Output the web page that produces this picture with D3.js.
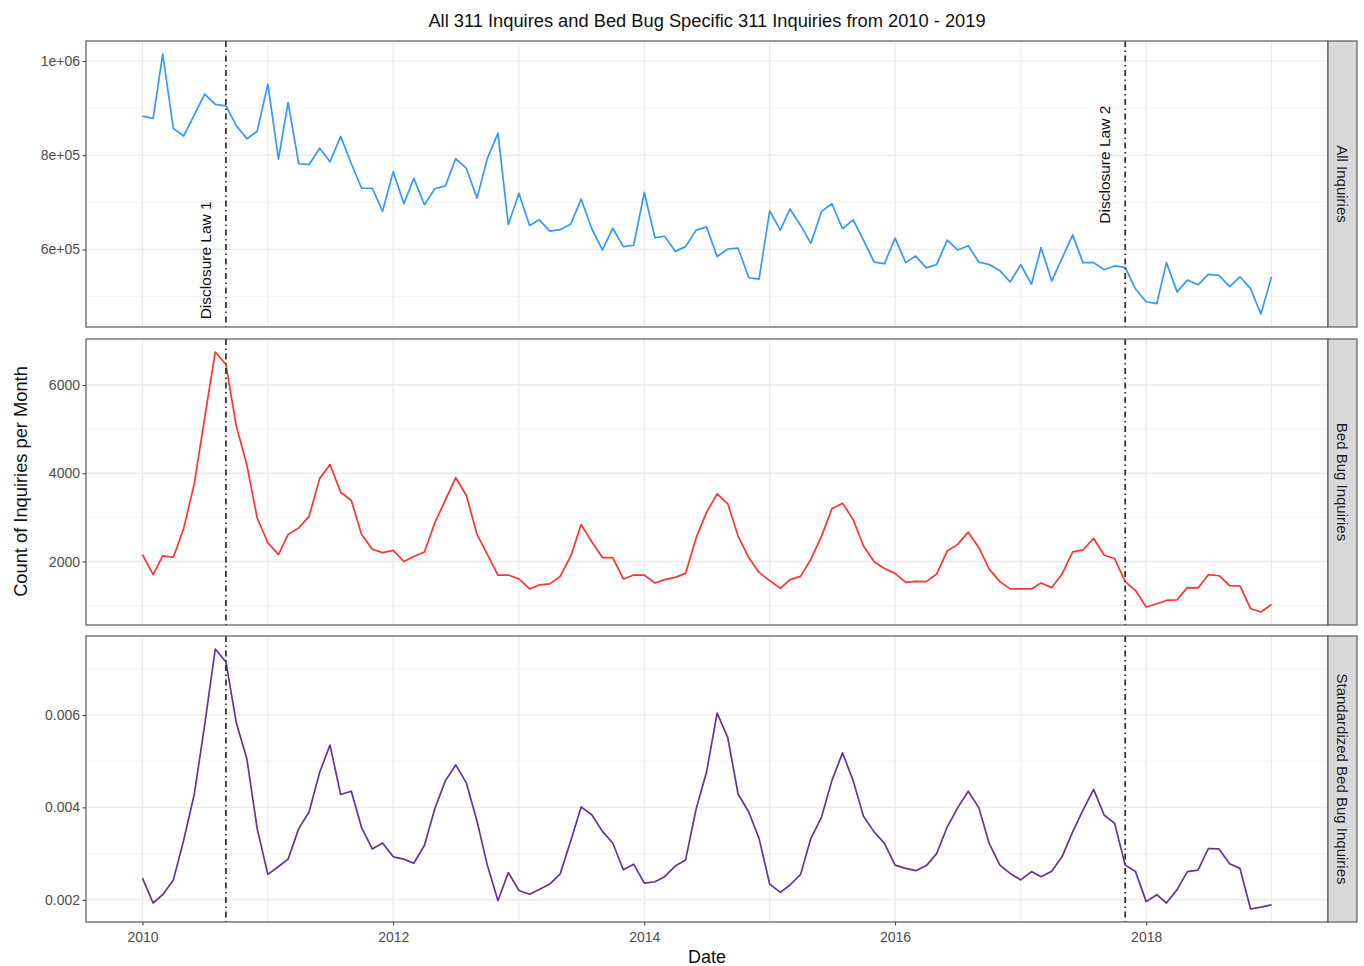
<!DOCTYPE html>
<html>
<head>
<meta charset="utf-8">
<script src="https://cdn.jsdelivr.net/npm/d3@7"></script>
<style>
  body { margin: 0; background: #fff; }
  svg { font-family: "Liberation Sans", Arial, sans-serif; }
</style>
</head>
<body>
<svg id="chart" width="1364" height="966"></svg>
<script>
// monthly values, Jan 2010 .. Jan 2019
const allInquiries = [
  883000, 878000, 1015000, 857000, 841000, 886000, 930000, 908000, 905000, 863000, 835000, 851000,
  951000, 792000, 912000, 782000, 780000, 815000, 786000, 840000, 782000, 730000, 730000, 681000,
  765000, 697000, 751000, 695000, 729000, 735000, 793000, 772000, 709000, 793000, 847000, 653000,
  719000, 651000, 663000, 639000, 642000, 654000, 707000, 644000, 599000, 645000, 606000, 609000,
  721000, 625000, 628000, 596000, 606000, 641000, 648000, 585000, 601000, 603000, 540000, 537000,
  682000, 641000, 686000, 651000, 613000, 681000, 697000, 644000, 663000, 620000, 573000, 570000,
  624000, 572000, 586000, 561000, 568000, 620000, 599000, 608000, 573000, 568000, 555000, 531000,
  568000, 526000, 604000, 533000, 581000, 631000, 572000, 572000, 557000, 565000, 562000, 516000,
  489000, 485000, 572000, 510000, 535000, 525000, 547000, 545000, 521000, 542000, 517000, 463000,
  542000
];

const bedBugInquiries = [
  2157, 1701, 2127, 2097, 2748, 3772, 5250, 6748, 6464, 5080, 4183, 2987,
  2426, 2157, 2613, 2763, 3024, 3884, 4198, 3570, 3383, 2613, 2277, 2202,
  2254, 2000, 2112, 2217, 2875, 3398, 3899, 3495, 2613, 2164, 1693, 1693,
  1604, 1379, 1469, 1492, 1664, 2127, 2837, 2449, 2090, 2090, 1604, 1693,
  1693, 1514, 1589, 1641, 1731, 2540, 3114, 3533, 3308, 2576, 2090, 1753,
  1566, 1394, 1589, 1664, 2052, 2576, 3196, 3323, 2950, 2351, 1993, 1843,
  1731, 1529, 1551, 1544, 1716, 2239, 2389, 2665, 2314, 1828, 1544, 1379,
  1379, 1379, 1514, 1409, 1716, 2217, 2262, 2523, 2142, 2067, 1544, 1342,
  968, 1043, 1118, 1133, 1409, 1402, 1701, 1678, 1454, 1447, 931, 856,
  1028
];

const standardized = [
  0.00247, 0.00193, 0.00211, 0.00243, 0.00329, 0.00429, 0.00578, 0.00743, 0.00715, 0.00584, 0.00505, 0.00354,
  0.00255, 0.00272, 0.00288, 0.00354, 0.00390, 0.00476, 0.00535, 0.00428, 0.00435, 0.00356, 0.00310, 0.00323,
  0.00293, 0.00288, 0.00279, 0.00318, 0.00397, 0.00458, 0.00492, 0.00453, 0.00370, 0.00275, 0.00198, 0.00259,
  0.00220, 0.00212, 0.00222, 0.00234, 0.00256, 0.00328, 0.00401, 0.00384, 0.00348, 0.00323, 0.00265, 0.00277,
  0.00236, 0.00239, 0.00250, 0.00273, 0.00286, 0.00397, 0.00476, 0.00604, 0.00551, 0.00429, 0.00390, 0.00333,
  0.00234, 0.00216, 0.00232, 0.00255, 0.00333, 0.00379, 0.00458, 0.00518, 0.00458, 0.00381, 0.00347, 0.00322,
  0.00275, 0.00268, 0.00263, 0.00274, 0.00300, 0.00358, 0.00399, 0.00435, 0.00399, 0.00322, 0.00275, 0.00257,
  0.00243, 0.00261, 0.00250, 0.00262, 0.00293, 0.00347, 0.00394, 0.00439, 0.00383, 0.00366, 0.00275, 0.00261,
  0.00196, 0.00211, 0.00193, 0.00222, 0.00261, 0.00264, 0.00311, 0.00310, 0.00278, 0.00268, 0.00180, 0.00184,
  0.00189
];

const panelNames = ['All Inquiries', 'Bed Bug Inquiries', 'Standardized Bed Bug Inquiries'];
const panelColors = ['#3399FF', '#FF3333', '#663399'];
const panelTicks = [[6e5, 8e5, 1e6], [2000, 4000, 6000], [0.002, 0.004, 0.006]];
const panelTickLabels = [['6e+05', '8e+05', '1e+06'], ['2000', '4000', '6000'], ['0.002', '0.004', '0.006']];
const panelMinor = [[5e5, 7e5, 9e5], [1000, 3000, 5000, 7000], [0.003, 0.005, 0.007]];

const lawDates = [new Date(2010, 8, 1), new Date(2017, 10, 1)];
const lawLabels = ['Disclosure Law 1', 'Disclosure Law 2'];
const lawLabelDates = [new Date(2010, 6, 4), new Date(2017, 8, 1)];
const lawLabelValues = [577000, 780000];

const xMajorYears = [2010, 2012, 2014, 2016, 2018];
const xMinorYears = [2011, 2013, 2015, 2017, 2019];

const months = d3.timeMonth.range(new Date(2010, 0, 1), new Date(2019, 1, 1));
const seriesList = [allInquiries, bedBugInquiries, standardized];

const svg = d3.select('#chart');
const left = 86, right = 1328, stripW = 29;
const panelTops = [41, 339, 636], panelH = 286;

// ggplot-style 5% expansion
const xExt = d3.extent(months);
const xPad = (xExt[1] - xExt[0]) * 0.05;
const x = d3.scaleTime()
  .domain([new Date(+xExt[0] - xPad), new Date(+xExt[1] + xPad)])
  .range([left, right]);

const line = (y) => d3.line().x((d, i) => x(months[i])).y((d) => y(d));

panelNames.forEach((name, p) => {
  const vals = seriesList[p];
  const top = panelTops[p], bottom = top + panelH;
  const ext = d3.extent(vals);
  const pad = (ext[1] - ext[0]) * 0.05;
  const y = d3.scaleLinear().domain([ext[0] - pad, ext[1] + pad]).range([bottom, top]);
  const g = svg.append('g');

  g.append('rect').attr('x', left).attr('y', top).attr('width', right - left).attr('height', panelH)
    .attr('fill', '#fff');

  // grid
  g.selectAll('.ymin').data(panelMinor[p].filter((v) => v > y.domain()[0] && v < y.domain()[1]))
    .enter().append('line')
    .attr('x1', left).attr('x2', right)
    .attr('y1', (d) => y(d)).attr('y2', (d) => y(d))
    .attr('stroke', '#f2f2f2').attr('stroke-width', 0.8);
  g.selectAll('.xmin').data(xMinorYears).enter().append('line')
    .attr('x1', (d) => x(new Date(d, 0, 1))).attr('x2', (d) => x(new Date(d, 0, 1)))
    .attr('y1', top).attr('y2', bottom)
    .attr('stroke', '#ebebeb').attr('stroke-width', 1);
  g.selectAll('.ymaj').data(panelTicks[p]).enter().append('line')
    .attr('x1', left).attr('x2', right)
    .attr('y1', (d) => y(d)).attr('y2', (d) => y(d))
    .attr('stroke', '#ebebeb').attr('stroke-width', 1.3);
  g.selectAll('.xmaj').data(xMajorYears).enter().append('line')
    .attr('x1', (d) => x(new Date(d, 0, 1))).attr('x2', (d) => x(new Date(d, 0, 1)))
    .attr('y1', top).attr('y2', bottom)
    .attr('stroke', '#ebebeb').attr('stroke-width', 1.3);

  // data line
  g.append('path').datum(vals)
    .attr('d', line(y))
    .attr('fill', 'none')
    .attr('stroke', panelColors[p])
    .attr('stroke-width', 1.7)
    .attr('stroke-linejoin', 'round');

  // law lines
  g.selectAll('.law').data(lawDates).enter().append('line')
    .attr('x1', (d) => x(d)).attr('x2', (d) => x(d))
    .attr('y1', top).attr('y2', bottom)
    .attr('stroke', '#2a2a2a').attr('stroke-width', 1.7)
    .attr('stroke-dasharray', '6,3.5,1.5,3.5');

  if (p === 0) {
    g.selectAll('.lawtxt').data(lawLabels).enter().append('text')
      .attr('transform', (d, i) => `translate(${x(lawLabelDates[i])},${y(lawLabelValues[i])}) rotate(-90)`)
      .attr('text-anchor', 'middle')
      .attr('dy', '0.35em')
      .attr('font-size', 15.5)
      .attr('fill', '#111')
      .text((d) => d);
  }

  // y axis
  const yAxis = d3.axisLeft(y).tickValues(panelTicks[p]).tickSize(3.5)
    .tickFormat((d, i) => panelTickLabels[p][i]);
  const ya = g.append('g').attr('transform', `translate(${left},0)`).call(yAxis);
  ya.select('.domain').remove();
  ya.selectAll('line').attr('stroke', '#333');
  ya.selectAll('text').attr('font-size', 14).attr('fill', '#4d4d4d')
    .attr('font-family', '"Liberation Sans", Arial, sans-serif').attr('x', -6);

  // border
  g.append('rect').attr('x', left).attr('y', top).attr('width', right - left).attr('height', panelH)
    .attr('fill', 'none').attr('stroke', '#5a5a5a').attr('stroke-width', 1.2);

  // strip
  g.append('rect').attr('x', right).attr('y', top).attr('width', stripW).attr('height', panelH)
    .attr('fill', '#d9d9d9').attr('stroke', '#5a5a5a').attr('stroke-width', 1.2);
  g.append('text')
    .attr('transform', `translate(${right + stripW / 2},${top + panelH / 2}) rotate(90)`)
    .attr('text-anchor', 'middle').attr('dy', '0.35em')
    .attr('font-size', 15).attr('fill', '#1a1a1a')
    .text(name);

  if (p === 2) {
    const xAxis = d3.axisBottom(x)
      .tickValues(xMajorYears.map((d) => new Date(d, 0, 1)))
      .tickFormat(d3.timeFormat('%Y')).tickSize(3.5);
    const xa = g.append('g').attr('transform', `translate(0,${bottom})`).call(xAxis);
    xa.select('.domain').remove();
    xa.selectAll('line').attr('stroke', '#333');
    xa.selectAll('text').attr('font-size', 14).attr('fill', '#4d4d4d')
      .attr('font-family', '"Liberation Sans", Arial, sans-serif').attr('y', 10);
  }
});

// titles
svg.append('text').attr('x', (left + right) / 2).attr('y', 27)
  .attr('text-anchor', 'middle').attr('font-size', 18.3).attr('fill', '#111')
  .text('All 311 Inquires and Bed Bug Specific 311 Inquiries from 2010 - 2019');
svg.append('text').attr('x', (left + right) / 2).attr('y', 963)
  .attr('text-anchor', 'middle').attr('font-size', 18).attr('fill', '#111')
  .text('Date');
svg.append('text')
  .attr('transform', `translate(27,${(panelTops[0] + panelTops[2] + panelH) / 2}) rotate(-90)`)
  .attr('text-anchor', 'middle').attr('font-size', 18.3).attr('fill', '#111')
  .text('Count of Inquiries per Month');
</script>
</body>
</html>
